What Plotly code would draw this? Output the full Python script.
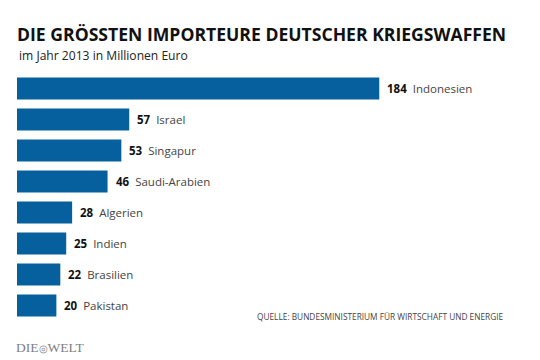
import plotly.graph_objects as go

countries = ["Indonesien", "Israel", "Singapur", "Saudi-Arabien", "Algerien", "Indien", "Brasilien", "Pakistan"]
values = [184, 57, 53, 46, 28, 25, 22, 20]

title = "DIE GRÖSSTEN IMPORTEURE DEUTSCHER KRIEGSWAFFEN"
subtitle = "im Jahr 2013 in Millionen Euro"
source = "QUELLE: BUNDESMINISTERIUM FÜR WIRTSCHAFT UND ENERGIE"

fig = go.Figure(go.Bar(
    x=values, y=countries, orientation="h",
    marker=dict(color="#07609e", line=dict(width=0)),
    hoverinfo="skip",
))

for c, v in zip(countries, values):
    fig.add_annotation(
        x=v, y=c, xref="x", yref="y", xanchor="left", yanchor="middle",
        xshift=6, showarrow=False,
        text=f"<b>{v}</b>  <span style='color:#444'>{c}</span>",
        font=dict(family="Open Sans", size=11.5, color="#111"),
    )

fig.add_annotation(xref="paper", yref="paper", x=-0.004, y=1.0, yshift=39,
                   xanchor="left", yanchor="middle", showarrow=False,
                   text=f"<b>{title}</b>",
                   font=dict(family="Open Sans", size=17.6, color="#111"))
fig.add_annotation(xref="paper", yref="paper", x=0.0, y=1.0, yshift=18,
                   xanchor="left", yanchor="middle", showarrow=False,
                   text=subtitle,
                   font=dict(family="Open Sans", size=12.1, color="#222"))
fig.add_annotation(xref="paper", yref="paper", x=0.966, y=0.0, yshift=5,
                   xanchor="right", yanchor="middle", showarrow=False,
                   text=source,
                   font=dict(family="Open Sans", size=8.3, color="#444"))
fig.add_annotation(xref="paper", yref="paper", x=-0.006, y=0.0, yshift=-26,
                   xanchor="left", yanchor="middle", showarrow=False,
                   text="DIE<span style='font-size:10px'>◎</span>WELT",
                   font=dict(family="Liberation Serif", size=13.5, color="#808080"))

fig.update_layout(
    width=540, height=360,
    margin=dict(l=17, r=17, t=73, b=39),
    paper_bgcolor="white", plot_bgcolor="white",
    bargap=0.29, showlegend=False,
    xaxis=dict(range=[0, 257], visible=False, fixedrange=True),
    yaxis=dict(autorange="reversed", visible=False, fixedrange=True),
)

fig.write_html("out.html", config={"displayModeBar": False},
               post_script="document.body.style.margin='0';")
